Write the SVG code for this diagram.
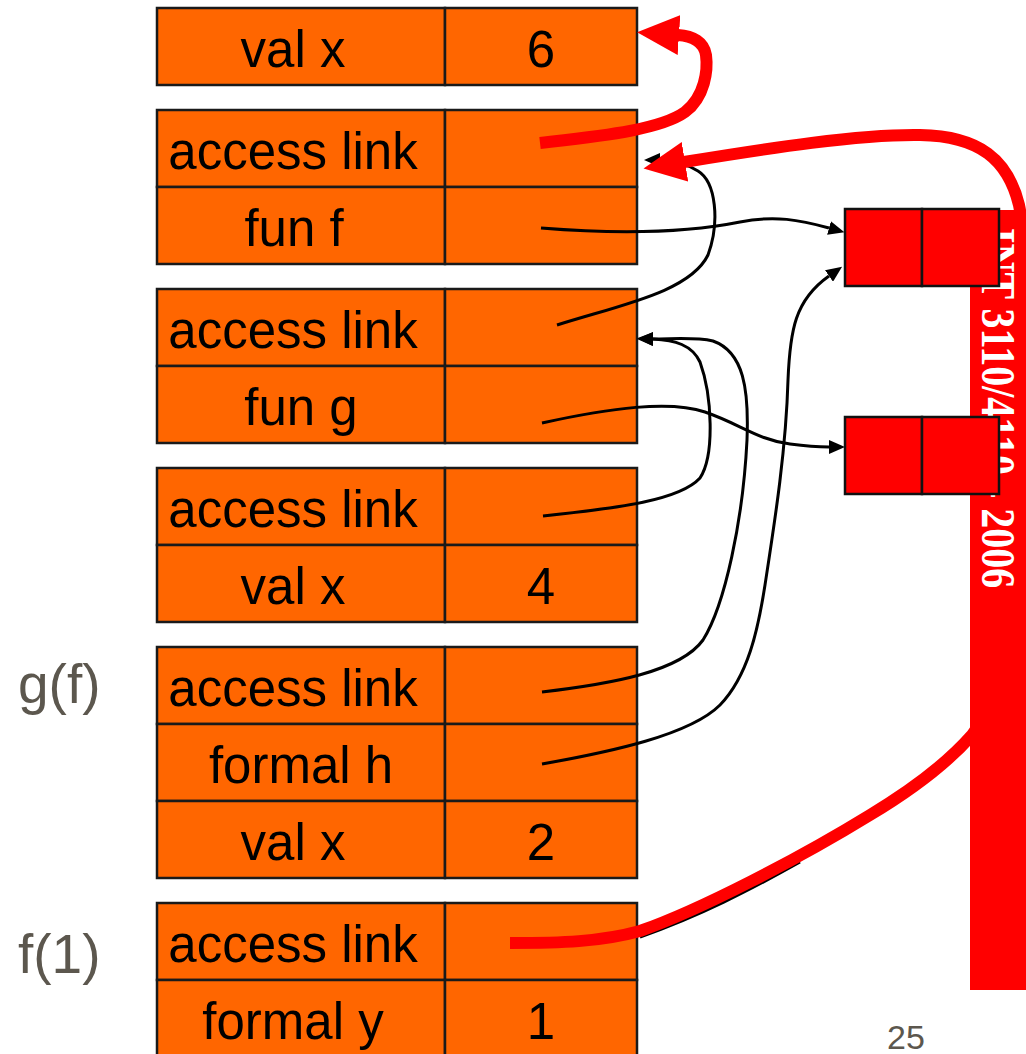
<svg xmlns="http://www.w3.org/2000/svg" width="1026" height="1054" viewBox="0 0 1026 1054">
  <style>
    .cell { fill: #ff6600; stroke: #1a1a1a; stroke-width: 2.5; }
    .blk { fill: #ff0000; stroke: #111; stroke-width: 2.5; }
    .t { font-family: "Liberation Sans", Arial, sans-serif; font-size: 51px; fill: #000; text-anchor: middle; }
    .lbl { font-family: "Liberation Sans", Arial, sans-serif; font-size: 55px; fill: #5c574e; }
    .thin { fill: none; stroke: #000; stroke-width: 3; }
    .thick { fill: none; stroke: #ff0000; stroke-width: 12; }
  </style>
  <defs>
    <marker id="ah" markerUnits="userSpaceOnUse" markerWidth="16" markerHeight="14" viewBox="0 0 16 14" refX="0" refY="7" orient="auto">
      <path d="M0,0 L16,7 L0,14 z" fill="#000"/>
    </marker>
    <marker id="ahRed" markerUnits="userSpaceOnUse" markerWidth="42" markerHeight="40" viewBox="0 0 42 40" refX="1" refY="20" orient="auto">
      <path d="M0,0 L42,20 L0,40 z" fill="#ff0000"/>
    </marker>
  </defs>
  <rect width="1026" height="1054" fill="#fff"/>

  <!-- stack frames -->
  <g id="frame-x6">
    <rect class="cell" x="157" y="8" width="288" height="77"/>
    <rect class="cell" x="445" y="8" width="192" height="77"/>
    <text class="t" x="293" y="67">val x</text>
    <text class="t" x="541" y="67">6</text>
  </g>
  <g id="frame-f">
    <rect class="cell" x="157" y="110" width="288" height="77"/>
    <rect class="cell" x="445" y="110" width="192" height="77"/>
    <rect class="cell" x="157" y="187" width="288" height="77"/>
    <rect class="cell" x="445" y="187" width="192" height="77"/>
    <text class="t" x="293" y="169">access link</text>
    <text class="t" x="294" y="246">fun f</text>
  </g>
  <g id="frame-g">
    <rect class="cell" x="157" y="289" width="288" height="77"/>
    <rect class="cell" x="445" y="289" width="192" height="77"/>
    <rect class="cell" x="157" y="366" width="288" height="77"/>
    <rect class="cell" x="445" y="366" width="192" height="77"/>
    <text class="t" x="293" y="348">access link</text>
    <text class="t" x="301" y="425">fun g</text>
  </g>
  <g id="frame-x4">
    <rect class="cell" x="157" y="468" width="288" height="77"/>
    <rect class="cell" x="445" y="468" width="192" height="77"/>
    <rect class="cell" x="157" y="545" width="288" height="77"/>
    <rect class="cell" x="445" y="545" width="192" height="77"/>
    <text class="t" x="293" y="527">access link</text>
    <text class="t" x="293" y="604">val x</text>
    <text class="t" x="541" y="604">4</text>
  </g>
  <g id="frame-gf">
    <rect class="cell" x="157" y="647" width="288" height="77"/>
    <rect class="cell" x="445" y="647" width="192" height="77"/>
    <rect class="cell" x="157" y="724" width="288" height="77"/>
    <rect class="cell" x="445" y="724" width="192" height="77"/>
    <rect class="cell" x="157" y="801" width="288" height="77"/>
    <rect class="cell" x="445" y="801" width="192" height="77"/>
    <text class="t" x="293" y="706">access link</text>
    <text class="t" x="301" y="783">formal h</text>
    <text class="t" x="293" y="860">val x</text>
    <text class="t" x="541" y="860">2</text>
    <text class="lbl" x="18" y="703">g(f)</text>
  </g>
  <g id="frame-f1">
    <rect class="cell" x="157" y="903" width="288" height="77"/>
    <rect class="cell" x="445" y="903" width="192" height="77"/>
    <rect class="cell" x="157" y="980" width="288" height="77"/>
    <rect class="cell" x="445" y="980" width="192" height="77"/>
    <text class="t" x="293" y="962">access link</text>
    <text class="t" x="293" y="1039">formal y</text>
    <text class="t" x="541" y="1039">1</text>
    <text class="lbl" x="18" y="973">f(1)</text>
  </g>

  <!-- links between frames and closures -->
  <g id="connectors">
    <path class="thin" d="M541,228 C640,236 700,230 740,222 C775,215 800,220 829,228" marker-end="url(#ah)"/>
    <path class="thin" d="M557,325 C620,305 690,292 708,255 C720,222 716,182 698,171 C688,165 675,160 660,160" marker-end="url(#ah)"/>
    <path class="thin" d="M542,423 C610,408 670,400 705,412 C740,424 758,440 790,444 C805,446 815,447 829,447" marker-end="url(#ah)"/>
    <path class="thin" d="M543,516 C620,508 680,500 700,478 C715,455 712,395 700,362 C692,345 675,340 653,339" marker-end="url(#ah)"/>
    <path class="thin" d="M542,692 C610,684 680,672 703,640 C725,605 743,520 747,440 C749,390 744,352 713,341 C695,337 675,339 653,339" marker-end="url(#ah)"/>
    <path class="thin" d="M542,764 C610,752 690,735 720,705 C748,676 758,630 765,585 C775,520 786,450 788,380 C790,330 795,300 829,276" marker-end="url(#ah)"/>
    <path class="thin" d="M640,937 C700,916 750,890 800,862"/>
    <path class="thick" d="M540,143 C600,136 660,130 685,112 C705,97 708,70 706,55 C704,42 693,36 678,35" marker-end="url(#ahRed)"/>
    <path class="thick" d="M510,943 C560,943 600,942 640,931 C700,910 800,858 870,815 C920,785 950,760 972,735 C1000,700 1018,500 1020,300 C1022,255 1024,228 1019,205 C1008,160 980,136 920,135 C860,134 770,148 684,162" marker-end="url(#ahRed)"/>
  </g>

  <!-- course banner -->
  <g id="banner">
    <rect x="970" y="210" width="60" height="780" fill="#ff0000"/>
    <text transform="translate(982,228) rotate(90) scale(1,1.2)" font-family="Liberation Serif, 'Times New Roman', serif" font-weight="bold" font-size="40" fill="#fff">INT 3110/4110 - 2006</text>
  </g>

  <!-- closures -->
  <g id="closure-f">
    <rect class="blk" x="845" y="209" width="77" height="77"/>
    <rect class="blk" x="922" y="209" width="77" height="77"/>
  </g>
  <g id="closure-g">
    <rect class="blk" x="845" y="417" width="77" height="77"/>
    <rect class="blk" x="922" y="417" width="77" height="77"/>
  </g>

  <text x="906" y="1049" font-family="Liberation Sans, Arial, sans-serif" font-size="34" fill="#5c574e" text-anchor="middle">25</text>
</svg>
